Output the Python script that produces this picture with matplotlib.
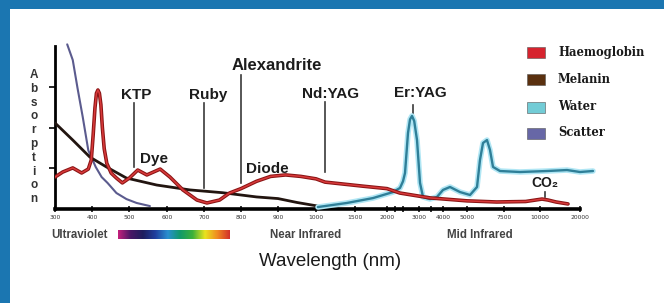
import numpy as np
import matplotlib
matplotlib.use("Agg")
import matplotlib.pyplot as plt
from matplotlib.patches import Rectangle
from matplotlib.colors import LinearSegmentedColormap

# ---------------- data ----------------
hb_wl = [300, 321, 348, 372, 390, 398, 403, 408, 412, 416, 420, 424, 428, 433, 440, 452, 466, 482,
         501, 523, 547, 582, 608, 643, 681, 708, 742, 769, 800, 842, 880, 920, 960, 1000, 1115,
         1625, 2000, 2400, 3458, 5000, 7000, 9000, 10500, 12000, 14000, 17000]
hb_val = [0.196, 0.227, 0.252, 0.221, 0.245, 0.30, 0.45, 0.62, 0.71, 0.73, 0.71, 0.64, 0.50, 0.37,
          0.28, 0.22, 0.19, 0.16, 0.19, 0.239, 0.209, 0.245, 0.196, 0.117, 0.055, 0.037, 0.055,
          0.098, 0.125, 0.17, 0.20, 0.209, 0.20, 0.185, 0.165, 0.14, 0.125, 0.098, 0.068, 0.05,
          0.043, 0.046, 0.061, 0.055, 0.043, 0.031]

mel_wl = [300, 348, 394, 439, 493, 573, 662, 750, 842, 900, 950, 1000, 1060]
mel_val = [0.528, 0.423, 0.319, 0.258, 0.19, 0.147, 0.117, 0.10, 0.074, 0.064, 0.04, 0.02, 0.012]

wat_wl = [1025, 1397, 1781, 2188, 2406, 2500, 2563, 2656, 2720, 2781, 2850, 2938, 3042, 3167, 3458,
          3750, 4000, 4292, 4708, 5203, 5676, 5878, 6081, 6351, 6554, 6757, 7230, 8611, 11750,
          16750, 20000, 23250]
wat_val = [0.012, 0.037, 0.067, 0.104, 0.129, 0.17, 0.221, 0.466, 0.55, 0.571, 0.54, 0.423, 0.16,
           0.074, 0.061, 0.074, 0.117, 0.135, 0.104, 0.086, 0.135, 0.301, 0.405, 0.423, 0.362,
           0.258, 0.233, 0.227, 0.233, 0.239, 0.227, 0.233]

sca_wl = [333, 348, 361, 375, 390, 410, 426, 442, 466, 493, 520, 555]
sca_val = [1.01, 0.914, 0.74, 0.564, 0.36, 0.258, 0.196, 0.16, 0.098, 0.061, 0.037, 0.018]

tick_wl = [300, 400, 500, 600, 700, 800, 900, 1000, 1500, 2000, 3000, 4000, 5000, 7500, 10000, 20000]
tick_labels = [str(t) for t in tick_wl]
minor_wl = [2250, 2500, 3500]

# piecewise axis (wavelength -> relative position along the axis)
knot_wl = [300, 400, 500, 600, 700, 800, 900, 1000, 1500, 2000, 3000, 4000, 5000, 7500, 10000, 20000, 30000]
knot_pos = [55, 92, 129, 167, 204, 241, 278, 316, 355, 387, 419, 443, 467, 504, 540, 580, 620]

laser_names = ["KTP", "Dye", "Ruby", "Alexandrite", "Diode", "Nd:YAG", "Er:YAG", "CO₂"]
laser_text_x = [520, 565, 710, 898, 871, 1192, 3042, 11250]
laser_text_y = [0.675, 0.282, 0.675, 0.853, 0.221, 0.681, 0.687, 0.135]
laser_line_x = [512, None, 700, 800, None, 1115, 2812, 11250]
laser_line_lo = [0.258, None, 0.129, 0.16, None, 0.227, 0.577, 0.074]
laser_line_hi = [0.65, None, 0.65, 0.822, None, 0.656, 0.638, 0.104]

legend_labels = ["Haemoglobin", "Melanin", "Water", "Scatter"]
legend_colors = ["#d6232e", "#5a300f", "#72ccd6", "#6767a6"]

region_labels = ["Ultraviolet", "Near Infrared", "Mid Infrared"]

# ---------------- figure ----------------
W, H = 664, 303
fig = plt.figure(figsize=(W / 100, H / 100), dpi=100)
fig.patch.set_facecolor("white")

# blue frame strips
blue = "#1b76b1"
fig.add_artist(Rectangle((0, 0), 10 / W, 1, transform=fig.transFigure, color=blue, lw=0, zorder=0))
fig.add_artist(Rectangle((0, 1 - 9 / H), 1, 9 / H, transform=fig.transFigure, color=blue, lw=0, zorder=0))

ax = fig.add_axes([55 / W, (H - 209) / H, (600 - 55) / W, (209 - 46) / H])
ax.set_facecolor("none")

fwd = lambda x: np.interp(x, knot_wl, knot_pos)
inv = lambda p: np.interp(p, knot_pos, knot_wl)
ax.set_xscale("function", functions=(fwd, inv))
ax.set_xlim(300, 25000)
ax.set_ylim(0, 1)

# curves
ax.plot(sca_wl, sca_val, color="#5b5b8e", lw=1.5, solid_capstyle="round", zorder=3, clip_on=False)
ax.plot(mel_wl, mel_val, color="#221510", lw=2.0, solid_capstyle="round", zorder=4)
ax.plot(wat_wl, wat_val, color="#b0e6f4", lw=4.0, solid_capstyle="round", zorder=4, clip_on=False)
ax.plot(wat_wl, wat_val, color="#2f7f98", lw=1.7, solid_capstyle="round", zorder=5, clip_on=False)
ax.plot(hb_wl, hb_val, color="#8a1414", lw=2.6, solid_capstyle="round", zorder=6)
ax.plot(hb_wl, hb_val, color="#d8393a", lw=1.1, solid_capstyle="round", zorder=7)

# laser annotations
for name, tx, ty, lx, lo, hi in zip(laser_names, laser_text_x, laser_text_y,
                                     laser_line_x, laser_line_lo, laser_line_hi):
    fs = 12 if name == "Alexandrite" else 11
    if name == "CO₂":
        fs = 10
    ax.text(tx, ty, name, ha="center", va="baseline", fontsize=fs, fontweight="bold",
            color="#1c1c1c", family=["Liberation Sans", "DejaVu Sans"], zorder=8)
    if lx is not None:
        ax.plot([lx, lx], [lo, hi], color="#3a3a3a", lw=1.2, zorder=2)

# axes styling
for s in ["top", "right"]:
    ax.spines[s].set_visible(False)
ax.spines["bottom"].set_linewidth(2.6)
ax.spines["bottom"].set_bounds(300, 20000)
ax.spines["left"].set_linewidth(2.0)
ax.set_xticks(tick_wl)
ax.set_xticklabels(tick_labels, fontsize=4.3, color="#333333")
ax.set_xticks(minor_wl, minor=True)
ax.tick_params(axis="x", which="both", direction="inout", length=5, width=1.1, pad=1.5)
ax.set_yticks([0.25, 0.5, 0.75])
ax.set_yticklabels([])
ax.tick_params(axis="y", direction="out", length=4, width=1.2)

# stacked y label
for i, ch in enumerate("Absorption"):
    fig.text(34 / W, 1 - (75 + i * 13.8) / H, ch, ha="center", va="center", fontsize=8.5,
             fontweight="bold", color="#333333", family="Liberation Sans")

# region labels
region_x = [80, 306, 480]
for lab, rx in zip(region_labels, region_x):
    fig.text(rx / W, 1 - 235 / H, lab, ha="center", va="center", fontsize=8.3,
             fontweight="bold", color="#444444", family="Liberation Sans")

# spectrum bar
cmap = LinearSegmentedColormap.from_list("spec", ["#c4207c", "#4a1766", "#1e1e5e", "#203f9e",
                                                  "#2a8fd0", "#119a6a", "#3cb039", "#e9e31e",
                                                  "#f08a20", "#d2302a"])
bax = fig.add_axes([118 / W, 1 - 239 / H, 112 / W, 9 / H])
bax.imshow(np.linspace(0, 1, 256)[None, :], aspect="auto", cmap=cmap)
bax.set_axis_off()

fig.text(330 / W, 1 - 262 / H, "Wavelength (nm)", ha="center", va="center", fontsize=13.5,
         color="#1a1a1a", family="Liberation Sans")

# legend
legend_y = [52.5, 79.5, 107, 133]
for lab, col, ly in zip(legend_labels, legend_colors, legend_y):
    fig.add_artist(Rectangle((527 / W, 1 - (ly + 5.5) / H), 18 / W, 11 / H, transform=fig.transFigure,
                             facecolor=col, edgecolor="#555555", lw=0.4))
    fig.text(558 / W, 1 - ly / H, lab, ha="left", va="center", fontsize=8.3, fontweight="bold",
             color="#1a1a1a", family="DejaVu Serif")

fig.savefig("out.png", dpi=100, facecolor="white")
